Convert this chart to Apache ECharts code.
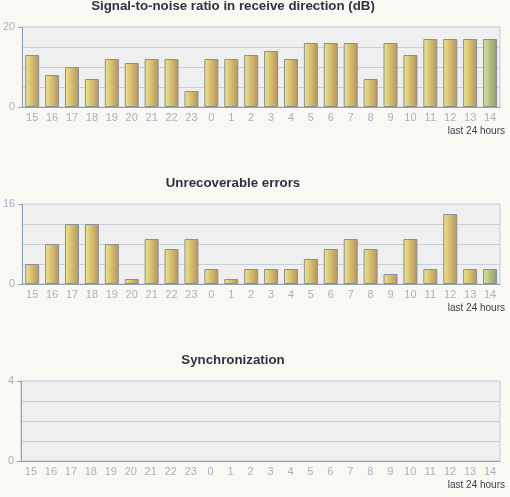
<!DOCTYPE html>
<html>
<head>
<meta charset="utf-8">
<script src="https://cdn.jsdelivr.net/npm/echarts@6/dist/echarts.min.js"></script>
<style>
html,body{margin:0;padding:0;background:#f9f8f3;}
#c{width:510px;height:497px;}
</style>
</head>
<body>
<div id="c"></div>
<script>
const hours = ['15','16','17','18','19','20','21','22','23','0','1','2','3','4','5','6','7','8','9','10','11','12','13','14'];
const snrValues = [13,8,10,7,12,11,12,12,4,12,12,13,14,12,16,16,16,7,16,13,17,17,17,17];
const errorValues = [4,8,12,12,8,1,9,7,9,3,1,3,3,3,5,7,9,7,2,9,3,14,3,3];
const syncValues = [];
const titles = ['Signal-to-noise ratio in receive direction (dB)', 'Unrecoverable errors', 'Synchronization'];
const yMax = [20, 16, 4];
const xLabel = 'last 24 hours';

const tops = [27, 204, 381];
const plotH = 80;
const normalFill = new echarts.graphic.LinearGradient(0,0,1,0,[{offset:0,color:'#efe789'},{offset:1,color:'#b8925a'}]);
const lastFill = new echarts.graphic.LinearGradient(0,0,1,0,[{offset:0,color:'#d4e4a0'},{offset:1,color:'#8e9e68'}]);

function styled(vals){
  return vals.map((v,i)=>({value:v, itemStyle:{color: i===vals.length-1 ? lastFill : normalFill}}));
}
const seriesData = [snrValues, errorValues, syncValues];

const grids = [], xAxes = [], yAxes = [], series = [], graphics = [];
for (let k=0;k<3;k++){
  grids.push({left:21, right:10, top:tops[k], height:plotH, show:true, backgroundColor:'#efefef', borderColor:'#c3cbd6', borderWidth:1});
  xAxes.push({type:'category', gridIndex:k, data:hours, boundaryGap:true,
    axisLine:{lineStyle:{color:'#8fa0b4', width:1}},
    axisTick:{alignWithLabel:true, length:4, lineStyle:{color:'#8fa0b4'}},
    axisLabel:{color:'#a9b1c1', fontSize:11, margin:5, fontFamily:'Liberation Sans', interval:0}
  });
  yAxes.push({type:'value', gridIndex:k, min:0, max:yMax[k], interval:yMax[k],
    axisLine:{show:true, lineStyle:{color:'#8fa0b4', width:1}},
    axisTick:{show:true, length:4, lineStyle:{color:'#8fa0b4'}},
    axisLabel:{color:'#a9b1c1', fontSize:11, margin:7, fontFamily:'Liberation Sans'},
    splitLine:{show:false},
    minorTick:{show:false, splitNumber:4},
    minorSplitLine:{show:true, lineStyle:{color:'#c7cfda', width:1}}
  });
  series.push({type:'bar', xAxisIndex:k, yAxisIndex:k, data:styled(seriesData[k]), barWidth:14,
    itemStyle:{borderColor:'#8a8f98', borderWidth:1}, animation:false, silent:true});
  graphics.push({type:'text', x:233, y:tops[k]-21,
    style:{text:titles[k], font:'bold 13.3px "Liberation Sans", Arial, sans-serif', fill:'#2e3440', textAlign:'center', textVerticalAlign:'middle'}});
  graphics.push({type:'text', x:505, y:tops[k]+plotH+24,
    style:{text:xLabel, font:'10px "Liberation Sans", Arial, sans-serif', fill:'#3a3f4a', textAlign:'right', textVerticalAlign:'middle'}});
}

const chart = echarts.init(document.getElementById('c'), null, {renderer:'canvas'});
chart.setOption({
  backgroundColor:'#f9f8f3',
  animation:false,
  grid:grids, xAxis:xAxes, yAxis:yAxes, series:series, graphic:graphics
});
</script>
</body>
</html>
